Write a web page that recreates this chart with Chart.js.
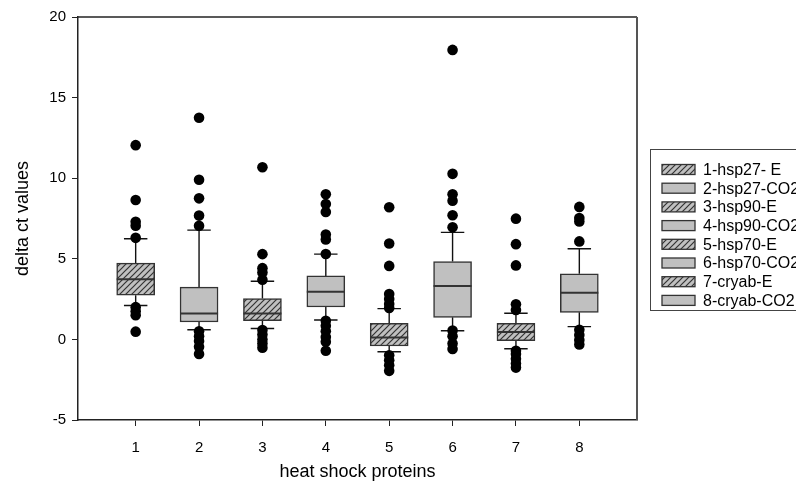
<!DOCTYPE html>
<html>
<head>
<meta charset="utf-8">
<script src="https://cdn.jsdelivr.net/npm/chart.js@4/dist/chart.umd.min.js"></script>
<style>
  html, body { margin: 0; padding: 0; background: #fff; }
  #wrap { width: 796px; height: 485px; }
</style>
</head>
<body>
<div id="wrap"><canvas id="boxChart"></canvas></div>
<script>
// categories + legend names
const categories = [1, 2, 3, 4, 5, 6, 7, 8];
const legendLabels = ['1-hsp27- E', '2-hsp27-CO2', '3-hsp90-E', '4-hsp90-CO2',
                      '5-hsp70-E', '6-hsp70-CO2', '7-cryab-E', '8-cryab-CO2'];
const hatched = [true, false, true, false, true, false, true, false];

// box stats
const q1          = [2.74, 1.08, 1.16, 2.01, -0.41, 1.37, -0.08, 1.68];
const median      = [3.73, 1.60, 1.60, 2.95,  0.12, 3.32,  0.46, 2.90];
const q3          = [4.73, 3.24, 2.53, 3.94,  1.00, 4.83,  1.00, 4.07];
const whiskerLow  = [2.10, 0.60, 0.68, 1.20, -0.77, 0.54, -0.58, 0.79];
const whiskerHigh = [6.24, 6.78, 3.61, 5.29,  1.91, 6.64,  1.62, 5.62];

const outliers = [
  [12.05, 8.65, 7.3, 7.05, 6.3, 2.0, 1.75, 1.5, 0.48],
  [13.75, 9.9, 8.75, 7.68, 7.05, 0.5, 0.2, -0.1, -0.45, -0.9],
  [10.68, 5.29, 4.42, 4.15, 3.7, 0.58, 0.3, 0.0, -0.25, -0.52],
  [9.0, 8.4, 7.9, 6.5, 6.2, 5.3, 1.15, 0.85, 0.5, 0.15, -0.15, -0.7],
  [8.2, 5.95, 4.56, 2.82, 2.5, 2.2, 1.95, -0.98, -1.29, -1.6, -1.95],
  [17.96, 10.27, 9.0, 8.6, 7.7, 6.95, 0.55, 0.2, -0.25, -0.6],
  [7.49, 5.91, 4.59, 2.18, 1.83, -0.7, -0.9, -1.2, -1.5, -1.75],
  [8.22, 7.53, 7.32, 6.08, 0.6, 0.27, -0.04, -0.31]
];

const xTicks = [1, 2, 3, 4, 5, 6, 7, 8];
const yTicks = [-5, 0, 5, 10, 15, 20];

const FONT = 'Arial, "Liberation Sans", sans-serif';
const GREY = '#c0c0c0';
const EDGE = '#333333';

// hatch pattern  ////
function makeHatch() {
  const c = document.createElement('canvas');
  c.width = 6; c.height = 6;
  const g = c.getContext('2d');
  g.fillStyle = GREY;
  g.fillRect(0, 0, 6, 6);
  g.strokeStyle = '#333';
  g.lineWidth = 1.2;
  g.beginPath();
  g.moveTo(-1, 7); g.lineTo(7, -1);
  g.moveTo(-1, 1); g.lineTo(1, -1);
  g.moveTo(5, 7); g.lineTo(7, 5);
  g.stroke();
  return g.createPattern(c, 'repeat');
}
const hatch = makeHatch();
const fills = hatched.map(h => h ? hatch : GREY);

const boxData = categories.map((c, i) => ({ x: c, y: [q1[i], q3[i]] }));
const pointData = [];
categories.forEach((c, i) => outliers[i].forEach(v => pointData.push({ x: c, y: v })));

const BOX_W = 0.6, CAP_W = 0.37;

const boxExtras = {
  id: 'boxExtras',
  beforeDatasetsDraw(chart) {
    const { ctx, scales: { x, y } } = chart;
    ctx.save();
    ctx.strokeStyle = '#111';
    ctx.lineWidth = 1.4;
    categories.forEach((c, i) => {
      const px = x.getPixelForValue(c);
      const cw = x.getPixelForValue(c + CAP_W / 2) - px;
      const yh = y.getPixelForValue(whiskerHigh[i]);
      const yl = y.getPixelForValue(whiskerLow[i]);
      ctx.beginPath();
      ctx.moveTo(px, y.getPixelForValue(q3[i])); ctx.lineTo(px, yh);
      ctx.moveTo(px, y.getPixelForValue(q1[i])); ctx.lineTo(px, yl);
      ctx.moveTo(px - cw, yh); ctx.lineTo(px + cw, yh);
      ctx.moveTo(px - cw, yl); ctx.lineTo(px + cw, yl);
      ctx.stroke();
    });
    ctx.restore();
  },
  afterDatasetsDraw(chart) {
    const { ctx, chartArea: a, scales: { x, y } } = chart;
    ctx.save();
    ctx.strokeStyle = EDGE;
    ctx.lineWidth = 2;
    categories.forEach((c, i) => {
      const l = x.getPixelForValue(c - BOX_W / 2);
      const r = x.getPixelForValue(c + BOX_W / 2);
      const m = y.getPixelForValue(median[i]);
      ctx.beginPath();
      ctx.moveTo(l, m); ctx.lineTo(r, m);
      ctx.stroke();
    });
    // frame
    ctx.lineWidth = 1.5;
    ctx.strokeStyle = '#222';
    ctx.beginPath();
    ctx.moveTo(a.left, a.top); ctx.lineTo(a.right, a.top);
    ctx.stroke();
    ctx.strokeStyle = '#555';
    ctx.lineWidth = 2;
    ctx.beginPath();
    ctx.moveTo(a.right, a.top); ctx.lineTo(a.right, a.bottom);
    ctx.stroke();
    ctx.restore();
  },
  afterDraw(chart) {
    // legend box on the right, runs past the edge like the original
    const { ctx } = chart;
    const lx = 650.5, ly = 149.5, lw = 160, lh = 161, step = 18.7;
    ctx.save();
    ctx.strokeStyle = '#444';
    ctx.lineWidth = 1;
    ctx.strokeRect(lx, ly, lw, lh);
    ctx.font = '16px ' + FONT;
    ctx.textBaseline = 'middle';
    legendLabels.forEach((t, i) => {
      const cy = 169.5 + i * step;
      ctx.fillStyle = fills[i];
      ctx.fillRect(662, cy - 5, 33, 10);
      ctx.strokeStyle = EDGE;
      ctx.lineWidth = 1.3;
      ctx.strokeRect(662, cy - 5, 33, 10);
      ctx.fillStyle = '#000';
      ctx.fillText(t, 703, cy + 1);
    });
    ctx.restore();
  }
};

new Chart(document.getElementById('boxChart'), {
  type: 'bar',
  data: {
    datasets: [
      {
        type: 'bar',
        data: boxData,
        backgroundColor: fills,
        borderColor: EDGE,
        borderWidth: 1.5,
        borderSkipped: false,
        barThickness: 38,
        order: 2
      },
      {
        type: 'scatter',
        data: pointData,
        pointRadius: 5.3,
        pointBackgroundColor: '#000',
        pointBorderWidth: 0,
        order: 1
      }
    ]
  },
  options: {
    responsive: true,
    maintainAspectRatio: false,
    animation: false,
    events: [],
    layout: { padding: { top: 17, right: 159, left: 0, bottom: 0 } },
    plugins: { legend: { display: false }, tooltip: { enabled: false } },
    scales: {
      x: {
        type: 'linear',
        min: 0.09,
        max: 8.91,
        offset: false,
        afterFit: s => { s.height = 65; },
        afterBuildTicks: s => { s.ticks = xTicks.map(v => ({ value: v })); },
        grid: { display: true, drawOnChartArea: false, drawTicks: true, tickLength: 6, color: '#222', offset: false },
        border: { display: true, color: '#222', width: 1.5 },
        ticks: { font: { size: 15, family: FONT }, color: '#000', padding: 13, maxRotation: 0 },
        title: { display: true, text: 'heat shock proteins', font: { size: 18, family: FONT }, color: '#000', padding: { top: 0, bottom: 2 } }
      },
      y: {
        type: 'linear',
        min: -5,
        max: 20,
        afterFit: s => { s.width = 78; },
        afterBuildTicks: s => { s.ticks = yTicks.map(v => ({ value: v })); },
        grid: { display: true, drawOnChartArea: false, drawTicks: true, tickLength: 6, color: '#222' },
        border: { display: true, color: '#222', width: 1.5 },
        ticks: { font: { size: 15, family: FONT }, color: '#000', padding: 6 },
        title: { display: true, text: 'delta ct values', font: { size: 18, family: FONT }, color: '#000', padding: { top: 12, bottom: 0 } }
      }
    }
  },
  plugins: [boxExtras]
});
</script>
</body>
</html>
